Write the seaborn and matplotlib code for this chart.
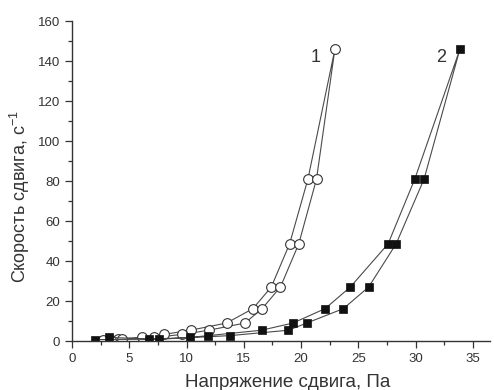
import matplotlib
matplotlib.use("Agg")
import matplotlib.pyplot as plt
import seaborn as sns
import pandas as pd
from matplotlib.ticker import MultipleLocator

# Curve 1 (open circles): up branch then down branch
c1_x = [2.7, 4.0, 6.1, 8.0, 10.35, 13.5, 15.8, 17.4, 19.0, 20.6, 22.95,
        21.35, 19.8, 18.2, 16.6, 15.1, 11.95, 9.6, 7.2, 4.4, 3.4]
c1_y = [0.5, 1.0, 1.8, 3.3, 5.4, 9.0, 16.2, 27.0, 48.6, 81.0, 145.8,
        81.0, 48.6, 27.0, 16.2, 9.0, 5.4, 3.3, 1.8, 1.0, 0.5]

# Curve 2 (filled squares)
c2_x = [2.0, 6.7, 10.3, 11.9, 16.55, 19.3, 22.1, 24.3, 27.6, 29.93, 33.86,
        30.74, 28.3, 25.9, 23.7, 20.5, 18.9, 13.8, 7.6, 3.2]
c2_y = [0.7, 0.9, 1.8, 2.7, 5.4, 9.0, 16.2, 27.0, 48.6, 81.0, 145.8,
        81.0, 48.6, 27.0, 16.2, 9.0, 5.4, 2.7, 0.9, 1.8]

curve_labels = ["1", "2"]
x_label = "Напряжение сдвига, Па"
y_label = "Скорость сдвига, с$^{-1}$"

sns.set_style("ticks")
plt.rcParams['font.family'] = ['Liberation Sans', 'DejaVu Sans']
plt.rcParams['mathtext.fontset'] = 'custom'
plt.rcParams['mathtext.rm'] = 'Liberation Sans'
plt.rcParams['mathtext.it'] = 'Liberation Sans'

fig = plt.figure(figsize=(4.94, 3.90), dpi=100)
ax = fig.add_axes([0.1457, 0.1256, 0.8463, 0.8204])

df1 = pd.DataFrame({"x": c1_x, "y": c1_y})
df2 = pd.DataFrame({"x": c2_x, "y": c2_y})

line_col = "#4a4a4a"
sns.lineplot(data=df1, x="x", y="y", sort=False, estimator=None, ax=ax,
             color=line_col, linewidth=0.8, marker="o", markersize=7,
             markerfacecolor="white", markeredgecolor="#333333",
             markeredgewidth=0.8)
sns.lineplot(data=df2, x="x", y="y", sort=False, estimator=None, ax=ax,
             color=line_col, linewidth=0.8, marker="s", markersize=6,
             markerfacecolor="#111111", markeredgecolor="#111111",
             markeredgewidth=0.5)

ax.set_xlim(0, 36.5)
ax.set_ylim(0, 160)
ax.xaxis.set_major_locator(MultipleLocator(5))
ax.xaxis.set_minor_locator(MultipleLocator(2.5))
ax.yaxis.set_major_locator(MultipleLocator(20))
ax.yaxis.set_minor_locator(MultipleLocator(10))

for s in ["top", "right"]:
    ax.spines[s].set_visible(False)
for s in ["left", "bottom"]:
    ax.spines[s].set_color("#333333")
    ax.spines[s].set_linewidth(1.0)

ax.tick_params(axis="both", which="major", direction="out", length=5,
               width=0.9, colors="#333333", labelsize=9.5, labelcolor="#333333")
ax.tick_params(axis="both", which="minor", direction="out", length=3,
               width=0.9, colors="#333333")

ax.set_xlabel(x_label, fontsize=13.5, color="#333333")
ax.set_ylabel(y_label, fontsize=13, color="#333333")
ax.xaxis.set_label_coords(0.517, -0.103)
ax.yaxis.set_label_coords(-0.095, 0.453)

ax.text(21.3, 142, curve_labels[0], fontsize=13, color="#333333",
        ha="center", va="center")
ax.text(32.2, 142, curve_labels[1], fontsize=13, color="#333333",
        ha="center", va="center")

fig.savefig("out.png", dpi=100)
